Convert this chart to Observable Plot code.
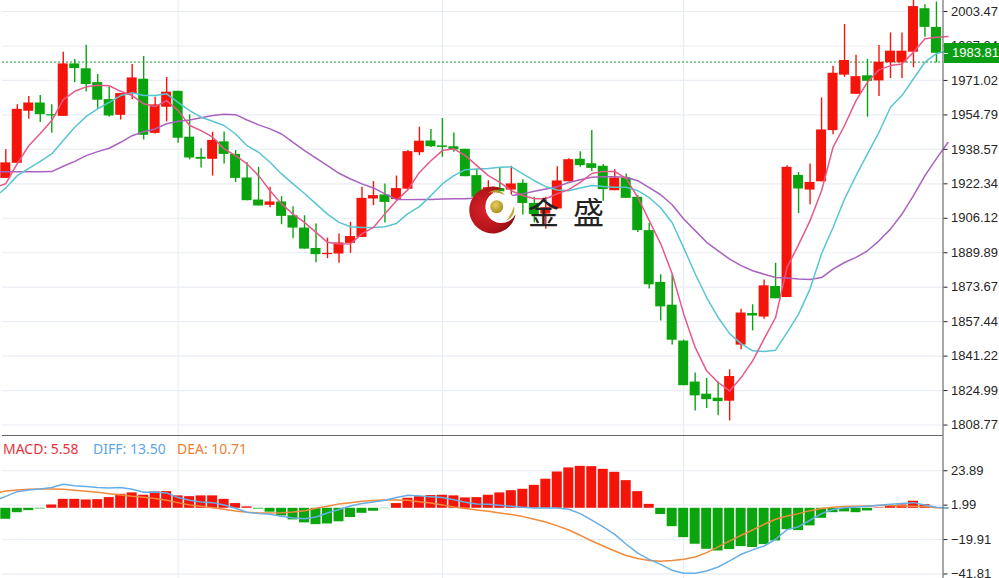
<!DOCTYPE html>
<html><head><meta charset="utf-8">
<script src="https://cdn.jsdelivr.net/npm/d3@7"></script>
<script src="https://cdn.jsdelivr.net/npm/@observablehq/plot@0.6"></script>
<style>
html,body{margin:0;padding:0;background:#fff;width:999px;height:578px;overflow:hidden}
#chart{position:relative;width:999px;height:578px;overflow:hidden}
#chart svg.p{position:absolute;left:0;display:block;max-width:none}
#legend{position:absolute;left:0;top:441px;font:14px/16px "Noto Sans",sans-serif;white-space:nowrap}
#legend span{position:absolute;top:0}
#tag{position:absolute;left:944px;width:55px;height:20px;background:#0a9e12;color:#fff;font:13px/20px "Liberation Sans",sans-serif;white-space:nowrap}
#tag i{position:absolute;left:0;top:10px;width:4px;height:1px;background:#fff}
#tag b{position:absolute;left:8px;font-weight:normal}
#mark{position:absolute;left:0;top:0}
</style></head><body><div id="chart"></div>
<script>
const priceTicks=[2003.47,1987.24,1971.02,1954.79,1938.57,1922.34,1906.12,1889.89,1873.67,1857.44,1841.22,1824.99,1808.77];
const macdTicks=[23.89,1.99,-19.91,-41.81];
const sessionMarks=[15,38,59];
const lastPrice=1983.81, bidLine=1979.67;
const openP=[1924.9,1932.0,1956.5,1960.4,1954.9,1954.1,1978.8,1976.5,1970.0,1962.0,1954.6,1964.7,1971.6,1946.1,1958.4,1965.9,1944.3,1934.8,1933.9,1942.1,1936.2,1925.1,1914.7,1912.2,1913.8,1907.3,1901.5,1891.9,1889.0,1889.3,1894.3,1897.1,1915.2,1917.1,1914.9,1919.8,1937.0,1942.5,1940.2,1939.8,1938.6,1926.2,1914.4,1920.1,1919.4,1922.6,1913.1,1908.1,1910.5,1923.3,1933.9,1931.8,1930.6,1919.1,1925.1,1916.0,1900.3,1875.9,1865.2,1848.3,1829.0,1823.3,1821.4,1820.0,1846.4,1861.3,1859.6,1874.0,1868.8,1926.3,1919.4,1923.3,1947.4,1973.5,1964.5,1973.2,1970.8,1979.3,1979.3,1984.3,2004.8,1996.0];
const closeP=[1932.2,1957.4,1960.4,1954.9,1954.3,1978.8,1976.6,1969.1,1961.7,1954.3,1964.8,1972.2,1945.2,1959.5,1965.5,1943.8,1934.5,1933.9,1942.8,1936.2,1924.9,1914.4,1911.9,1913.8,1907.0,1901.5,1891.6,1889.0,1889.6,1894.5,1897.5,1915.5,1916.8,1913.6,1920.1,1937.5,1942.4,1939.8,1939.5,1938.3,1925.7,1916.0,1920.5,1915.3,1922.3,1913.1,1907.8,1911.1,1923.7,1933.7,1930.9,1929.6,1919.6,1925.1,1915.5,1900.3,1874.8,1864.4,1848.7,1827.3,1822.5,1820.7,1819.8,1831.6,1861.5,1860.1,1874.3,1868.2,1930.1,1919.9,1923.0,1947.7,1974.4,1980.4,1972.8,1970.6,1979.6,1984.8,1984.8,2005.8,1996.0,1983.81];
const highP=[1938.4,1959.6,1963.4,1963.9,1959.6,1984.3,1980.9,1987.6,1973.8,1967.8,1964.8,1978.5,1982.3,1963.1,1972.4,1965.9,1954.8,1938.8,1946.6,1946.8,1938.0,1932.3,1930.1,1920.7,1916.3,1911.6,1907.3,1903.4,1896.8,1898.7,1904.2,1920.7,1923.4,1922.3,1926.0,1938.0,1949.0,1947.9,1953.1,1946.3,1938.6,1929.3,1923.8,1929.6,1930.6,1924.3,1916.0,1916.0,1930.4,1934.2,1937.5,1947.4,1931.4,1929.0,1927.0,1916.8,1903.7,1879.5,1879.5,1848.7,1833.3,1830.7,1829.2,1834.8,1863.3,1865.4,1877.1,1884.9,1930.9,1927.7,1931.7,1962.8,1977.7,1997.4,1982.9,1980.9,1987.5,1993.4,1993.4,2011.0,2006.6,2007.9];
const lowP=[1924.8,1932.0,1952.7,1951.2,1946.1,1954.1,1970.0,1965.6,1957.6,1953.7,1952.4,1962.1,1943.0,1945.8,1951.5,1941.4,1933.6,1929.8,1926.0,1931.7,1923.0,1914.4,1911.9,1911.1,1903.1,1896.5,1891.6,1885.2,1887.1,1884.9,1889.6,1897.1,1912.1,1903.9,1914.4,1919.8,1935.6,1939.5,1934.8,1937.2,1925.7,1916.0,1911.1,1914.4,1916.8,1907.7,1904.0,1901.0,1910.5,1923.3,1930.1,1928.2,1914.1,1919.1,1915.5,1899.4,1872.8,1857.8,1846.5,1827.3,1815.4,1816.5,1813.1,1810.7,1844.2,1853.1,1858.6,1868.2,1868.8,1908.4,1912.5,1923.3,1945.4,1972.5,1964.5,1953.7,1963.4,1971.9,1971.9,1977.0,1991.4,1979.3];
const maFast=[1920.5,1922.4,1931.8,1940.3,1946.0,1952.1,1962.0,1965.9,1968.0,1968.8,1968.5,1965.9,1963.9,1960.0,1958.7,1961.5,1956.8,1949.8,1947.4,1944.3,1938.8,1935.6,1931.7,1926.2,1919.1,1912.9,1908.1,1904.2,1899.5,1894.8,1894.0,1894.1,1898.8,1901.8,1908.3,1914.4,1919.6,1927.7,1933.2,1938.0,1938.8,1935.6,1930.9,1926.2,1923.0,1919.1,1916.8,1915.3,1915.3,1917.7,1919.6,1923.0,1927.2,1928.2,1928.2,1924.8,1916.0,1905.0,1894.1,1880.0,1861.1,1845.3,1834.3,1828.8,1824.8,1831.1,1839.0,1849.3,1859.4,1883.0,1893.7,1905.0,1919.1,1939.5,1949.8,1961.5,1970.2,1976.0,1978.0,1978.8,1984.3,1990.6,1991.4,1991.7];
const maMid=[1915.8,1920.4,1926.2,1929.6,1932.9,1936.4,1942.7,1949.0,1954.1,1957.6,1960.7,1963.9,1965.2,1963.9,1963.9,1964.7,1960.7,1956.8,1953.7,1951.8,1949.8,1945.8,1940.3,1937.2,1932.5,1927.0,1922.3,1917.8,1912.9,1908.1,1904.2,1902.1,1901.8,1901.8,1902.1,1903.7,1908.3,1911.6,1916.8,1922.3,1926.2,1929.0,1929.3,1929.6,1930.1,1930.3,1927.0,1923.8,1921.0,1919.4,1919.1,1920.4,1921.5,1921.1,1920.7,1920.7,1919.1,1915.8,1911.1,1904.0,1892.2,1880.0,1868.8,1859.4,1851.8,1847.1,1843.7,1843.4,1844.0,1852.3,1861.0,1872.9,1889.4,1901.8,1915.2,1926.2,1936.4,1946.6,1958.4,1963.9,1971.8,1979.6,1983.6,1985.1];
const maSlow=[1928.0,1928.0,1928.0,1928.0,1928.0,1928.1,1930.6,1932.9,1935.6,1937.5,1939.1,1941.9,1945.0,1946.9,1948.2,1950.6,1951.8,1952.4,1953.4,1954.5,1955.1,1954.9,1952.4,1950.1,1948.2,1945.8,1941.9,1938.0,1934.4,1930.9,1927.3,1924.6,1922.3,1920.4,1917.6,1915.0,1914.9,1915.0,1915.0,1915.2,1915.3,1915.3,1915.7,1915.7,1916.0,1916.8,1917.6,1918.8,1919.9,1921.0,1923.0,1924.3,1925.4,1925.7,1925.7,1925.4,1923.8,1920.5,1917.2,1912.5,1905.8,1900.3,1894.8,1890.8,1886.9,1883.8,1881.4,1879.8,1878.2,1878.0,1877.5,1877.3,1878.2,1882.2,1885.3,1887.7,1890.8,1895.5,1901.0,1908.1,1916.8,1926.2,1934.2,1941.8];
const macd=[-7.0,-2.8,-1.5,-0.4,2.1,5.7,5.7,5.3,5.5,6.8,8.9,9.8,8.3,10.4,10.6,7.9,7.4,7.9,7.9,5.7,3.0,0.9,-0.5,-2.5,-4.9,-7.4,-9.3,-10.4,-10.0,-8.6,-5.9,-3.2,-1.9,-0.2,3.0,6.4,7.4,8.1,8.3,7.9,6.6,6.8,8.3,9.8,11.2,12.1,14.6,18.5,23.1,25.7,26.7,26.5,24.8,22.9,17.6,10.6,2.5,-4.0,-11.7,-18.7,-22.9,-26.1,-27.2,-26.3,-24.4,-25.0,-23.1,-20.8,-13.6,-14.2,-11.2,-6.4,-2.8,-2.3,-2.8,-1.7,0.3,1.3,2.1,4.5,2.3,0.4];
const diff=[4.7,7.6,10.6,11.7,12.3,13.2,15.3,14.4,13.8,13.2,12.9,13.2,12.1,10.2,10.4,9.8,6.8,5.1,4.0,3.6,2.1,0,-2.5,-3.4,-3.8,-5.1,-6.2,-6.6,-5.5,-3.0,-0.8,1.5,3.0,4.0,5.1,6.8,8.3,7.9,7.4,6.8,5.5,3.8,2.8,2.5,1.9,1.3,0.6,0.2,0.2,0.2,-0.6,-3.4,-7.6,-11.9,-16.6,-22.9,-28.6,-32.5,-35.7,-39.5,-41.4,-41.4,-39.9,-37.4,-33.5,-29.3,-26.5,-24.0,-19.7,-13.6,-11.7,-7.6,-3.4,-0.8,0.4,0.8,1.3,1.9,2.5,3.0,3.6,2.1,0.6,0.2];
const dea=[9.5,11.0,11.7,12.1,12.3,12.3,12.1,11.5,10.8,10.2,9.3,8.5,7.6,7.0,6.2,5.1,3.6,2.1,1.3,0.4,-0.6,-1.7,-2.5,-3.0,-3.0,-2.8,-2.3,-1.5,0,1.3,2.8,3.6,4.5,4.9,5.3,5.3,5.1,4.2,3.4,2.1,0.8,-0.2,-1.1,-1.9,-3.0,-4.0,-5.3,-7.0,-8.7,-11.2,-13.8,-17.2,-20.8,-24.0,-27.2,-30.1,-32.0,-33.3,-33.7,-33.3,-32.5,-31.0,-28.2,-24.6,-20.8,-17.2,-13.8,-10.2,-7.0,-4.9,-3.4,-1.5,-0.2,0.6,1.1,1.3,1.5,1.7,1.7,1.5,1.3,1.1,0.4,0.2];
const legendItems=[["MACD: 5.58",3,"#e8333a"],["DIFF: 13.50",93,"#5ba6e6"],["DEA: 10.71",177,"#ee7f30"]];

const UP="#f5140a",DOWN="#0aa50e",GRID="#e9eef4",AXIS="#6e6e6e",TEXT="#262626";
const xMin=-0.287,xMax=81.57;
const xOpt={domain:[xMin,xMax],range:[2,942.5],axis:null};
const base={width:999,marginLeft:0,marginRight:0,marginTop:0,marginBottom:0,
  style:{fontFamily:'"Liberation Sans",sans-serif',background:"transparent",color:TEXT}};
const idx=d3.range(openP.length);
const half=0.435;
const lineMark=(arr,stroke,w=1.5)=>Plot.line(arr,{x:(d,i)=>i-1,y:d=>d,stroke,strokeWidth:w,clip:true});
const priceDomain=[1803.6,2008.66];

const mainChart=Plot.plot({...base,height:436,x:xOpt,
  y:{domain:priceDomain,range:[435.5,0]},
  marks:[
    Plot.gridY(priceTicks,{stroke:GRID,strokeOpacity:1,strokeWidth:1.2,x1:xMin,x2:xMax}),
    Plot.ruleX(sessionMarks,{stroke:GRID,strokeWidth:1.2}),
    Plot.ruleY([bidLine],{stroke:"#1b9e2c",strokeDasharray:"2,2",strokeWidth:1,x1:xMin,x2:xMax}),
    Plot.ruleX(idx,{x:i=>i,y1:i=>lowP[i],y2:i=>highP[i],stroke:i=>closeP[i]>=openP[i]?UP:DOWN,strokeWidth:1.4,clip:true}),
    Plot.rect(idx,{x1:i=>i-half,x2:i=>i+half,y1:i=>openP[i],y2:i=>closeP[i],fill:i=>closeP[i]>=openP[i]?UP:DOWN,clip:true}),
    lineMark(maSlow,"#a962bf"),
    lineMark(maMid,"#58c6d2"),
    lineMark(maFast,"#e6588c"),
    Plot.ruleX([xMax],{stroke:AXIS,strokeWidth:1.2}),
    Plot.ruleY([priceDomain[0]],{stroke:"#333",strokeWidth:1.4,x1:xMin,x2:xMax}),
    Plot.axisY(priceTicks,{anchor:"right",x:xMax,tickSize:4,tickPadding:4,fontSize:13,label:null,tickFormat:d3.format(".2f"),stroke:TEXT,fill:TEXT})
  ]});
mainChart.classList.add("p");mainChart.style.top="0px";

const macdChart=Plot.plot({...base,height:142,x:xOpt,
  y:{domain:[-44.7,45.7],range:[142,0]},
  marks:[
    Plot.gridY(macdTicks,{stroke:GRID,strokeOpacity:1,strokeWidth:1.2,x1:xMin,x2:xMax}),
    Plot.ruleX(sessionMarks,{stroke:GRID,strokeWidth:1.2}),
    Plot.rect(idx,{x1:i=>i-half,x2:i=>i+half,y1:0,y2:i=>macd[i],fill:i=>macd[i]>=0?UP:DOWN,clip:true}),
    lineMark(dea,"#f08a3c"),
    lineMark(diff,"#66aee6"),
    Plot.ruleX([xMax],{stroke:AXIS,strokeWidth:1.2}),
    Plot.axisY(macdTicks,{anchor:"right",x:xMax,tickSize:4,tickPadding:4,fontSize:13,label:null,tickFormat:d3.format(".2f"),stroke:TEXT,fill:TEXT})
  ]});
macdChart.classList.add("p");macdChart.style.top="436px";

const chart=document.getElementById("chart");
chart.append(mainChart,macdChart);

const legend=document.createElement("div");legend.id="legend";
for(const [t,l,c] of legendItems){const s=document.createElement("span");s.textContent=t;s.style.left=l+"px";s.style.color=c;legend.append(s);}
chart.append(legend);

const tag=document.createElement("div");tag.id="tag";
tag.style.top=(mainChart.scale("y").apply(lastPrice)-10)+"px";
tag.innerHTML="<i></i><b>"+d3.format(".2f")(lastPrice)+"</b>";
chart.append(tag);

chart.insertAdjacentHTML("beforeend",`<svg id="mark" width="999" height="578" viewBox="0 0 999 578" style="pointer-events:none">
<defs>
<radialGradient id="rg" cx="35%" cy="50%" r="70%"><stop offset="0" stop-color="#d8222a"/><stop offset="0.65" stop-color="#b4141a"/><stop offset="1" stop-color="#7a0c10"/></radialGradient>
<radialGradient id="gd" cx="40%" cy="35%" r="70%"><stop offset="0" stop-color="#e6cf60"/><stop offset="1" stop-color="#a88a1c"/></radialGradient>
</defs>
<circle cx="501" cy="207" r="16" fill="#fff"/>
<path d="M503 189A23.4 23.4 0 1 0 515.7 214A16 16 0 0 1 500 223A16 16 0 0 1 485.5 206A17 17 0 0 1 503 189Z" fill="url(#rg)"/>
<path d="M488 193Q497 186 505 195Q496 191 488 193Z" fill="#b89a2c"/>
<path d="M514 206Q516 216 506 221Q512 214 514 206Z" fill="#c4a63a"/>
<circle cx="496.7" cy="206.7" r="6.5" fill="url(#gd)"/>
<text x="528" y="224" font-family="Noto Sans CJK SC" font-size="31" fill="#222">金</text>
<text x="573" y="224" font-family="Noto Sans CJK SC" font-size="31" fill="#222">盛</text>
</svg>`);
</script></body></html>
